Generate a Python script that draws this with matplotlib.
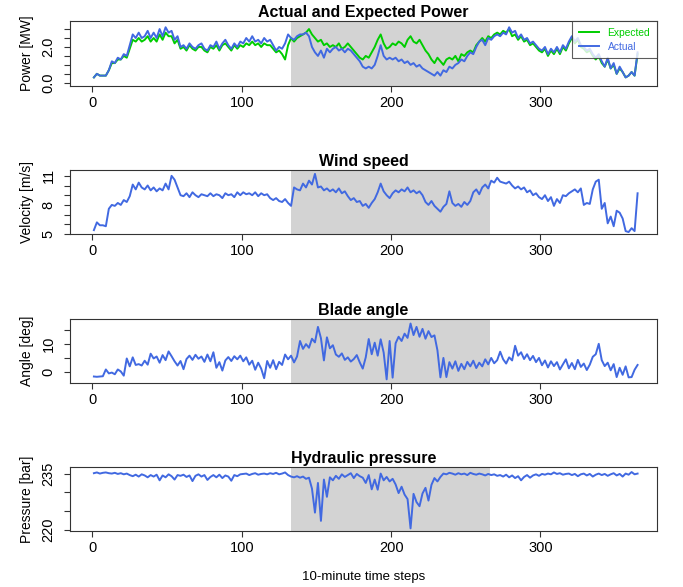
import numpy as np
import matplotlib
matplotlib.use("Agg")
import matplotlib.pyplot as plt

plt.rcParams['font.family'] = ['Liberation Sans', 'DejaVu Sans']

# 10-minute time steps, every second step
time_steps = np.arange(1, 366, 2)

power_actual = [
    0.3, 0.5, 0.4, 0.4, 0.4, 0.7, 1.2, 1.1, 1.4, 1.3,
    1.6, 1.5, 2.1, 2.7, 2.5, 2.8, 2.5, 2.6, 2.9, 2.5,
    2.8, 2.5, 3.0, 2.6, 3.1, 2.8, 2.9, 2.4, 2.6, 2.0,
    2.1, 1.9, 2.2, 2.0, 1.9, 2.1, 2.2, 1.9, 1.8, 2.1,
    2.0, 2.3, 1.9, 2.2, 2.4, 2.1, 1.9, 2.2, 2.0, 2.3,
    2.2, 2.5, 2.3, 2.6, 2.3, 2.4, 2.2, 2.5, 2.3, 2.4,
    2.1, 1.8, 2.0, 1.9, 2.2, 2.7, 2.5, 2.4, 2.6, 2.7,
    2.7, 2.8, 2.6, 2.0, 1.7, 1.5, 1.8, 1.4, 1.9, 1.7,
    1.9, 2.0, 1.8, 1.9, 1.7, 1.9, 1.8, 1.6, 1.4, 1.2,
    0.9, 0.8, 0.9, 0.8, 1.0, 1.5, 2.1, 1.5, 1.3, 1.4,
    1.3, 1.4, 1.2, 1.3, 1.1, 1.2, 1.0, 1.1, 0.9, 1.0,
    0.8, 0.7, 0.6, 0.5, 0.4, 0.6, 0.4, 0.7, 0.6, 0.9,
    0.8, 1.0, 1.1, 1.3, 1.2, 1.5, 1.7, 1.6, 2.0, 2.3,
    2.4, 2.1, 2.5, 2.4, 2.6, 2.7, 2.6, 2.8, 2.7, 3.1,
    2.8, 2.9, 2.5, 2.7, 2.4, 2.5, 2.2, 2.3, 2.1, 1.9,
    1.8, 2.0, 1.6, 1.9, 1.7, 2.0, 1.7, 2.1, 1.9, 2.3,
    2.6, 2.3, 2.5, 2.1, 2.0, 1.8, 1.9, 1.6, 1.4, 1.6,
    1.2, 0.9, 1.4, 0.8, 1.1, 0.5, 0.9, 0.6, 0.3, 0.4,
    0.6, 0.4, 1.7,
]

power_expected = [
    0.3, 0.5, 0.4, 0.4, 0.4, 0.7, 1.1, 1.1, 1.3, 1.3,
    1.5, 1.4, 1.9, 2.4, 2.3, 2.5, 2.3, 2.4, 2.6, 2.3,
    2.5, 2.3, 2.7, 2.4, 2.8, 2.6, 2.6, 2.2, 2.4, 1.9,
    2.0, 1.8, 2.1, 1.9, 1.8, 2.0, 2.0, 1.8, 1.7, 2.0,
    1.9, 2.1, 1.8, 2.1, 2.2, 2.0, 1.8, 2.1, 1.9, 2.1,
    2.0, 2.2, 2.1, 2.3, 2.1, 2.2, 2.0, 2.2, 2.1, 2.1,
    1.9, 1.7, 1.8, 1.6, 1.3, 2.1, 2.5, 2.3, 2.5, 2.6,
    2.7, 2.8, 3.0, 2.7, 2.5, 2.3, 2.4, 2.1, 2.2, 2.0,
    2.1, 2.0, 2.2, 1.9, 2.0, 2.2, 2.0, 1.8, 1.6, 1.4,
    1.3, 1.5, 1.4, 1.7, 2.0, 2.4, 2.7, 2.2, 1.9, 2.0,
    2.2, 2.1, 2.3, 2.2, 2.0, 2.4, 2.6, 2.3, 2.2, 2.4,
    2.1, 1.8, 1.6, 1.3, 1.1, 1.4, 1.2, 1.0, 1.3, 1.4,
    1.3, 1.5, 1.2, 1.6, 1.5, 1.7, 1.8, 1.7, 2.1, 2.3,
    2.5, 2.3, 2.6, 2.5, 2.7, 2.8, 2.7, 2.9, 2.8, 3.0,
    2.6, 2.7, 2.4, 2.6, 2.3, 2.4, 2.1, 2.2, 2.0, 1.8,
    1.7, 1.9, 1.5, 1.8, 1.6, 1.9, 1.6, 2.0, 1.8, 2.2,
    2.5, 2.2, 2.4, 2.0, 1.9, 1.7, 1.8, 1.5, 1.3, 1.5,
    1.1, 0.9, 1.3, 0.8, 1.0, 0.5, 0.8, 0.6, 0.3, 0.4,
    0.6, 0.4, 1.6,
]

wind_speed = [
    5.4, 6.2, 5.9, 5.9, 5.8, 7.6, 8.0, 7.9, 8.2, 8.0,
    8.5, 8.3, 8.9, 10.1, 9.6, 10.3, 9.8, 9.6, 10.0, 9.5,
    9.8, 9.4, 9.7, 9.5, 10.2, 9.6, 11.0, 10.6, 9.8, 9.0,
    8.9, 9.2, 8.8, 9.3, 9.0, 8.8, 9.1, 9.0, 8.9, 9.2,
    8.9, 9.1, 9.0, 8.7, 9.2, 9.0, 9.1, 8.8, 9.3, 9.0,
    9.3, 9.1, 9.2, 9.0, 9.3, 8.9, 9.2, 9.0, 9.1, 8.7,
    8.5, 8.7, 8.4, 8.3, 8.6, 8.2, 7.9, 9.8, 9.6, 9.5,
    10.2, 9.8, 10.5, 10.1, 11.2, 9.8, 9.9, 9.5, 9.7, 9.4,
    9.6, 9.3, 9.7, 9.2, 9.4, 8.9, 8.5, 8.7, 8.3, 8.4,
    7.9, 8.1, 7.7, 8.2, 8.6, 9.3, 10.2, 9.4, 9.0, 8.7,
    9.2, 9.5, 9.3, 9.6, 9.4, 9.8, 9.3, 9.5, 9.2, 9.4,
    9.0, 8.3, 8.0, 8.4, 7.9, 7.6, 7.3, 7.8, 8.1, 9.4,
    8.2, 7.9, 8.1, 7.8, 8.3, 8.0, 8.4, 9.3, 9.6, 9.1,
    9.8, 10.1, 9.7, 10.5, 10.3, 10.8, 10.4, 10.3, 10.2, 10.4,
    10.0, 9.7, 9.9, 9.6, 9.8, 9.3, 9.5, 9.0, 9.2, 8.8,
    8.6, 9.0, 8.4, 8.8, 7.9, 8.6, 8.2, 9.0, 8.9, 9.2,
    9.4, 9.6, 9.3, 9.7, 8.0, 8.2, 8.1, 9.6, 10.4, 10.6,
    7.6, 8.2, 6.1, 6.8, 5.8, 7.4, 7.2, 6.6, 5.3, 5.2,
    5.6, 5.3, 9.2,
]

blade_angle = [
    -1.6, -1.7, -1.6, -1.5, 0.9, -0.5, -0.2, -0.8, 0.9, 0.2,
    -1.3, 4.8, 2.0, 5.2, 2.5, 2.8, 2.3, 4.0, 2.6, 6.5,
    4.8, 5.5, 3.3, 6.0, 4.2, 7.3, 5.6, 3.8, 2.3, 3.9,
    1.0, 4.6, 5.8, 4.3, 6.1, 4.7, 5.5, 3.6, 6.2, 3.8,
    7.0, 1.5, 3.5, 0.5, 4.1, 5.3, 3.9, 5.6, 4.5, 5.8,
    3.8, 5.2, 2.6, 4.0, 0.8, 3.3, 1.2, -2.2, 3.9, 1.5,
    4.2, 1.0, 3.6, 2.5, 6.2, 4.5, 5.8, 3.4, 5.5, 11.0,
    8.2, 9.9, 8.6, 11.8, 10.5, 16.0, 12.0, 4.1, 12.3, 8.4,
    9.5, 6.2, 5.4, 6.6, 4.3, 5.2, 3.7, 4.6, 6.0, 3.4,
    1.2, 5.2, 11.7, 6.3, 10.4, 5.8, 11.6, 6.9, -2.6, 11.0,
    -2.0, 10.2, 12.5, 11.0, 13.6, 12.1, 17.2, 13.1, 16.0, 12.5,
    15.3, 11.8, 14.5, 12.4, 13.0, 7.7, -1.9, 5.0, -1.8, 3.5,
    1.2, 3.8, 0.4, 2.9, 1.0, 3.6, 2.0, 4.0, 1.4, 3.3,
    2.0, 4.5, 2.7, 5.0, 3.1, 4.2, 7.2, 4.5, 3.0, 5.2,
    4.1, 9.3, 5.8, 7.0, 4.6, 6.3, 4.2, 5.7, 3.5, 5.0,
    2.4, 4.1, 1.6, 3.8, 2.1, 3.5, 0.9, 2.7, 4.5, 1.3,
    3.2, 1.0, 4.3, 1.8, 3.0, 0.7, 2.6, 5.4, 6.3, 10.0,
    4.2, 2.1, 3.3, 0.6, 2.8, -1.8, 1.5, -1.0, 2.0, -1.9,
    -1.8, 0.8, 2.5,
]

hydraulic_pressure = [
    235.1, 235.3, 235.0, 235.2, 235.3, 235.1, 235.0, 235.2, 234.9, 235.1,
    234.8, 235.0, 234.6, 234.3, 234.7, 234.2, 234.8, 234.5, 234.0, 234.6,
    234.2, 234.7, 233.2, 234.5, 234.0, 234.8, 234.3, 233.4, 234.6, 234.4,
    234.7, 234.1, 234.5, 233.0, 234.4, 234.8, 234.2, 234.6, 233.3, 234.1,
    234.6, 234.0, 234.7, 233.8, 234.5, 234.2, 233.1, 234.6, 234.3, 234.8,
    234.9, 235.0, 234.6, 234.9, 235.1, 234.7, 234.9, 235.0, 234.8, 235.1,
    234.9, 235.2, 234.8, 235.0, 235.3, 234.6, 234.2, 234.0, 234.3, 233.9,
    234.2, 233.6, 233.9, 231.0, 224.6, 232.5, 222.4, 233.4, 228.8, 234.0,
    233.2, 234.4, 233.6, 234.8, 234.1, 234.6, 235.1, 233.8, 234.9, 234.3,
    233.9, 232.5, 234.6, 230.8, 233.4, 230.7, 235.0, 233.2, 234.1, 232.9,
    233.6, 232.1, 229.8, 231.5, 229.4, 228.2, 220.4, 229.6, 227.4, 226.3,
    229.7, 231.2, 227.8, 232.0, 233.8, 232.9, 234.1, 235.0, 234.8, 235.2,
    235.0, 234.7, 235.1, 234.8, 235.0, 234.6, 235.2, 234.9, 234.7, 235.0,
    234.8, 234.5, 234.9, 234.6, 234.8, 234.4, 234.6, 234.2, 234.7, 234.0,
    234.5, 233.8, 234.3, 233.2, 234.1, 234.6, 233.9, 234.5, 234.8, 234.4,
    234.9, 234.7, 235.0, 234.8, 235.3, 234.9, 235.1, 234.7, 234.9, 235.0,
    234.6, 234.9, 234.3, 234.8, 235.0, 234.5, 234.9, 234.2, 234.7, 235.0,
    234.6, 234.9, 234.4, 234.8, 235.1, 234.5, 234.9, 234.2, 235.0, 234.7,
    235.4, 234.8, 235.0,
]

# highlighted period (grey band)
anomaly_start, anomaly_end = 133, 266

blue = '#4169E1'
green = '#00CD00'

fig = plt.figure(figsize=(6.83, 5.87), dpi=100)

left, width = 70 / 683, 587 / 683
bottoms = [86, 234, 383, 531]
heights = [65, 64, 64, 64]

panels = [
    dict(title="Actual and Expected Power", ylabel="Power [MW]",
         ylim=(-0.18, 3.45), ticks=[0, 0.5, 1, 1.5, 2, 2.5, 3],
         labels=["0.0", "", "", "", "2.0", "", ""]),
    dict(title="Wind speed", ylabel="Velocity [m/s]",
         ylim=(5.0, 11.6), ticks=[5, 6, 7, 8, 9, 10, 11],
         labels=["5", "", "", "8", "", "", "11"]),
    dict(title="Blade angle", ylabel="Angle [deg]",
         ylim=(-3.9, 18.8), ticks=[0, 5, 10, 15],
         labels=["0", "", "10", ""]),
    dict(title="Hydraulic pressure", ylabel="Pressure [bar]",
         ylim=(219.7, 236.75), ticks=[220, 225, 230, 235],
         labels=["220", "", "", "235"]),
]

axes = []
for i, p in enumerate(panels):
    ax = fig.add_axes([left, 1 - bottoms[i] / 587, width, heights[i] / 587])
    ax.axvspan(anomaly_start, anomaly_end, color='#D3D3D3', lw=0, zorder=0)
    ax.set_xlim(-15, 378)
    ax.set_ylim(*p["ylim"])
    ax.set_xticks([0, 100, 200, 300])
    ax.set_yticks(p["ticks"])
    ax.set_yticklabels(p["labels"])
    ax.tick_params(axis='both', length=4.5, width=0.8, labelsize=10.5, color='#333333')
    ax.tick_params(axis='x', pad=2.5)
    ax.tick_params(axis='y', pad=6, labelrotation=90)
    for lab in ax.get_yticklabels():
        lab.set_va('center')
    for s in ax.spines.values():
        s.set_linewidth(0.8)
        s.set_color('#333333')
    ax.set_title(p["title"], fontsize=11.5, fontweight='bold', pad=3)
    ax.set_ylabel(p["ylabel"], fontsize=10)
    ax.yaxis.set_label_coords(-43 / 587, 0.5)
    ax.yaxis.label.set_va('center')
    axes.append(ax)

axes[0].plot(time_steps, power_expected, color=green, lw=1.4, label="Expected")
axes[0].plot(time_steps, power_actual, color=blue, lw=1.4, label="Actual")
axes[1].plot(time_steps, wind_speed, color=blue, lw=1.4)
axes[2].plot(time_steps, blade_angle, color=blue, lw=1.4)
axes[3].plot(time_steps, hydraulic_pressure, color=blue, lw=1.4)

leg = axes[0].legend(loc='upper right', fontsize=7.4, frameon=True, fancybox=False,
                     borderaxespad=0, borderpad=0.65, labelspacing=0.4,
                     handlelength=2.0, handletextpad=0.8, labelcolor='linecolor')
leg.get_frame().set_edgecolor('#333333')
leg.get_frame().set_linewidth(0.8)

fig.text(364 / 683, 1 - 577 / 587, "10-minute time steps", ha='center', va='center', fontsize=9.5)

fig.savefig("out.png", dpi=100)
